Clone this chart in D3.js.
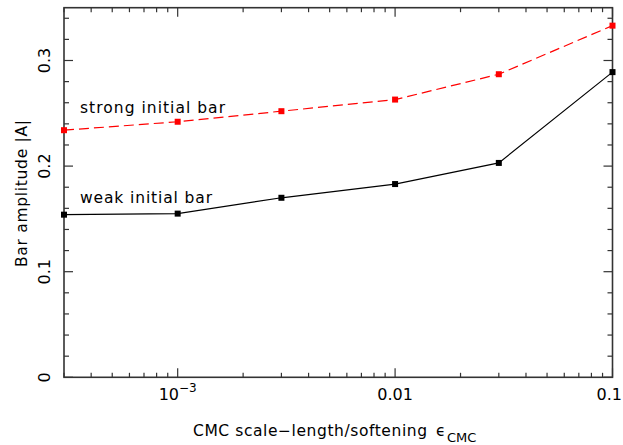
<!DOCTYPE html>
<html><head><meta charset="utf-8">
<script src="https://cdn.jsdelivr.net/npm/d3@7"></script>
<style>body{margin:0;background:#fff}svg{display:block}text{font-family:"DejaVu Sans",sans-serif;fill:#000}</style>
</head><body><svg id="c" width="623" height="445"></svg>
<script>
const xValues = [3e-4, 1e-3, 3e-3, 0.01, 0.03, 0.1];
const strongBar = [0.234, 0.242, 0.252, 0.263, 0.287, 0.333];
const weakBar = [0.154, 0.155, 0.170, 0.183, 0.203, 0.289];
const yTicks = [0, 0.1, 0.2, 0.3];
const xMajor = [1e-3, 0.01, 0.1];
const seriesLabels = ["strong initial bar", "weak initial bar"];

const svg = d3.select("#c");
const L = 64, R = 612.5, T = 7.7, B = 377.3;
const x = d3.scaleLog().domain([3e-4, 0.1]).range([L, R]);
const y = d3.scaleLinear().domain([0, 0.35]).range([B, T]);
const axisCol = "#333";

const xMinor = [];
for (let e = -4; e <= -1; e++) for (let m = 1; m <= 9; m++) {
  const v = m * Math.pow(10, e);
  if (v >= 3e-4 * 0.999 && v <= 0.1 * 1.001) xMinor.push(v);
}
const yMinor = d3.range(0, 0.3501, 0.02);

const g = svg.append("g");
xMinor.forEach(v => {
  const major = xMajor.some(M => Math.abs(M - v) / M < 1e-6);
  const len = major ? 9 : 4.5;
  g.append("line").attr("x1", x(v)).attr("x2", x(v)).attr("y1", B).attr("y2", B - len).attr("stroke", axisCol).attr("stroke-width", 1.2);
  g.append("line").attr("x1", x(v)).attr("x2", x(v)).attr("y1", T).attr("y2", T + len).attr("stroke", axisCol).attr("stroke-width", 1.2);
});
yMinor.forEach(v => {
  const major = yTicks.some(M => Math.abs(M - v) < 1e-6);
  const len = major ? 9 : 5;
  g.append("line").attr("x1", L).attr("x2", L + len).attr("y1", y(v)).attr("y2", y(v)).attr("stroke", axisCol).attr("stroke-width", 1.2);
  g.append("line").attr("x1", R).attr("x2", R - len).attr("y1", y(v)).attr("y2", y(v)).attr("stroke", axisCol).attr("stroke-width", 1.2);
});
g.append("rect").attr("x", L).attr("y", T).attr("width", R - L).attr("height", B - T)
  .attr("fill", "none").attr("stroke", axisCol).attr("stroke-width", 1.6);

yTicks.forEach(v => {
  g.append("text").attr("transform", `translate(50,${y(v)}) rotate(-90)`)
    .attr("text-anchor", "middle").attr("font-size", 16).text(v === 0 ? "0" : v.toString());
});
xMajor.forEach(v => {
  const t = g.append("text").attr("y", 400).attr("font-size", 16);
  if (v < 0.005) {
    t.attr("x", x(v)).attr("text-anchor", "middle");
    t.append("tspan").text("10");
    t.append("tspan").attr("dy", -8).attr("font-size", 12).text("−3");
  } else if (v > 0.05) {
    t.attr("x", 622).attr("text-anchor", "end").text(v.toString());
  } else {
    t.attr("x", x(v)).attr("text-anchor", "middle").text(v.toString());
  }
});

const xt = g.append("text").attr("y", 435.5).attr("font-size", 15.5);
xt.append("tspan").attr("x", 193).attr("textLength", 234).attr("lengthAdjust", "spacing").text("CMC scale−length/softening");
xt.append("tspan").attr("x", 436).text("ϵ");
xt.append("tspan").attr("x", 447).attr("dy", 6).attr("font-size", 13).text("CMC");
g.append("text").attr("transform", `translate(27,193.5) rotate(-90)`)
  .attr("text-anchor", "middle").attr("font-size", 15.5)
  .attr("textLength", 147).attr("lengthAdjust", "spacing").text("Bar amplitude |A|");

const line = d3.line().x(d => x(d[0])).y(d => y(d[1]));
const sData = xValues.map((v, i) => [v, strongBar[i]]);
const wData = xValues.map((v, i) => [v, weakBar[i]]);
g.append("path").datum(sData).attr("d", line).attr("fill", "none").attr("stroke", "#ff0000").attr("stroke-width", 1.2).attr("stroke-dasharray", "10,5");
g.append("path").datum(wData).attr("d", line).attr("fill", "none").attr("stroke", "#000").attr("stroke-width", 1.2);
const ms = 6;
g.selectAll(".sm").data(sData).join("rect").attr("x", d => x(d[0]) - ms / 2).attr("y", d => y(d[1]) - ms / 2).attr("width", ms).attr("height", ms).attr("fill", "#ff0000");
g.selectAll(".wm").data(wData).join("rect").attr("x", d => x(d[0]) - ms / 2).attr("y", d => y(d[1]) - ms / 2).attr("width", ms).attr("height", ms).attr("fill", "#000");

g.append("text").attr("x", 80).attr("y", 113).attr("font-size", 15.5).attr("textLength", 145).attr("lengthAdjust", "spacing").text(seriesLabels[0]);
g.append("text").attr("x", 80).attr("y", 203).attr("font-size", 15.5).attr("textLength", 132).attr("lengthAdjust", "spacing").text(seriesLabels[1]);
</script></body></html>
